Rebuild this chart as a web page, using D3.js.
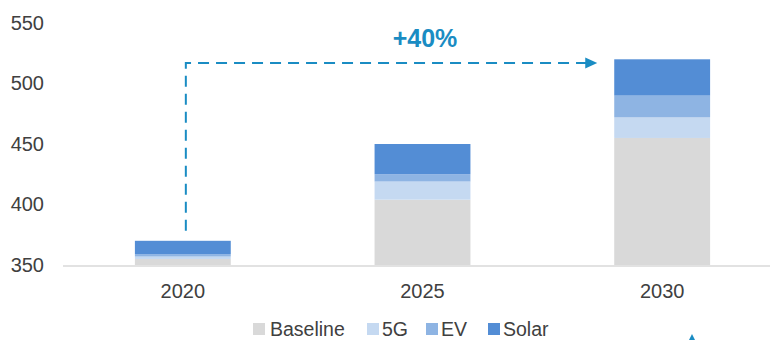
<!DOCTYPE html>
<html>
<head>
<meta charset="utf-8">
<script src="https://cdn.jsdelivr.net/npm/d3@7"></script>
<style>
  html, body { margin: 0; padding: 0; background: #fff; }
  svg { display: block; font-family: "Liberation Sans", Arial, sans-serif; }
</style>
</head>
<body>
<svg id="chart" width="770" height="340"></svg>
<script>
// Demand by year, split by driver
const years = ["2020", "2025", "2030"];
const baseline = [355, 404, 455];
const fiveG = [2, 15, 17];
const ev = [2, 6, 18];
const solar = [11, 25, 30];
const seriesNames = ["Baseline", "5G", "EV", "Solar"];
const seriesColors = ["#d9d9d9", "#c5d9f1", "#8eb4e3", "#538dd5"];
const yTicks = [350, 400, 450, 500, 550];
const growthLabel = "+40%";

const rows = years.map((y, i) => ({
  year: y, Baseline: baseline[i], "5G": fiveG[i], EV: ev[i], Solar: solar[i]
}));

const svg = d3.select("#chart");
const accent = "#1a8cc3";

const x = d3.scaleBand().domain(years).range([63, 782]).paddingInner(0.6).paddingOuter(0.3);
const y = d3.scaleLinear().domain([350, 550]).range([265, 23]).clamp(true);

const stacked = d3.stack().keys(seriesNames)(rows);

// stacked bars
svg.append("g").selectAll("g")
  .data(stacked)
  .join("g")
  .attr("fill", (d, i) => seriesColors[i])
  .selectAll("rect")
  .data(d => d)
  .join("rect")
  .attr("x", d => x(d.data.year))
  .attr("width", x.bandwidth())
  .attr("y", d => y(d[1]))
  .attr("height", d => y(d[0]) - y(d[1]));

// category axis line
svg.append("line")
  .attr("x1", 63).attr("x2", 770)
  .attr("y1", 266).attr("y2", 266)
  .attr("stroke", "#d9d9d9").attr("stroke-width", 1.5);

// x labels
const xAxis = d3.axisBottom(x).tickSize(0).tickPadding(0);
const gx = svg.append("g").attr("transform", "translate(0,284)").call(xAxis);
gx.select(".domain").remove();
gx.selectAll("text")
  .attr("dy", "0.71em")
  .attr("font-size", 20)
  .attr("font-family", "Liberation Sans, Arial, sans-serif")
  .attr("fill", "#404040");

// y labels
const yAxis = d3.axisLeft(y).tickValues(yTicks).tickSize(0).tickPadding(0);
const gy = svg.append("g").attr("transform", "translate(44,0)").call(yAxis);
gy.select(".domain").remove();
gy.selectAll("text")
  .attr("font-size", 20)
  .attr("font-family", "Liberation Sans, Arial, sans-serif")
  .attr("fill", "#404040");

// growth arrow from above the 2020 bar to the 2030 level
const total2020 = baseline[0] + fiveG[0] + ev[0] + solar[0];
const xStart = x("2020") + x.bandwidth() / 2 + 3;
const yArrow = 63;
const xEnd = x("2030") - 17;
svg.append("path")
  .attr("d", `M${xStart},${y(total2020) - 10}V${yArrow}H${xEnd - 11}`)
  .attr("fill", "none")
  .attr("stroke", accent)
  .attr("stroke-width", 2)
  .attr("stroke-dasharray", "11,7");
svg.append("path")
  .attr("d", `M${xEnd - 12},${yArrow - 5.5}L${xEnd},${yArrow}L${xEnd - 12},${yArrow + 5.5}Z`)
  .attr("fill", accent);

svg.append("text")
  .attr("x", 425).attr("y", 47)
  .attr("text-anchor", "middle")
  .attr("font-size", 25)
  .attr("font-weight", "bold")
  .attr("fill", accent)
  .text(growthLabel);

// legend
const legendX = [253, 367, 426, 488];
const lg = svg.append("g").selectAll("g")
  .data(seriesNames)
  .join("g")
  .attr("transform", (d, i) => `translate(${legendX[i]},323)`);
lg.append("rect").attr("width", 12).attr("height", 12)
  .attr("fill", (d, i) => seriesColors[i]);
lg.append("text")
  .attr("x", (d, i) => i === 0 ? 17 : 15)
  .attr("y", 13)
  .attr("font-size", 19.5)
  .attr("fill", "#404040")
  .text(d => d);

// small marker at the lower right edge
svg.append("path")
  .attr("d", "M692,334L695,340L689,340Z")
  .attr("fill", accent);
</script>
</body>
</html>
